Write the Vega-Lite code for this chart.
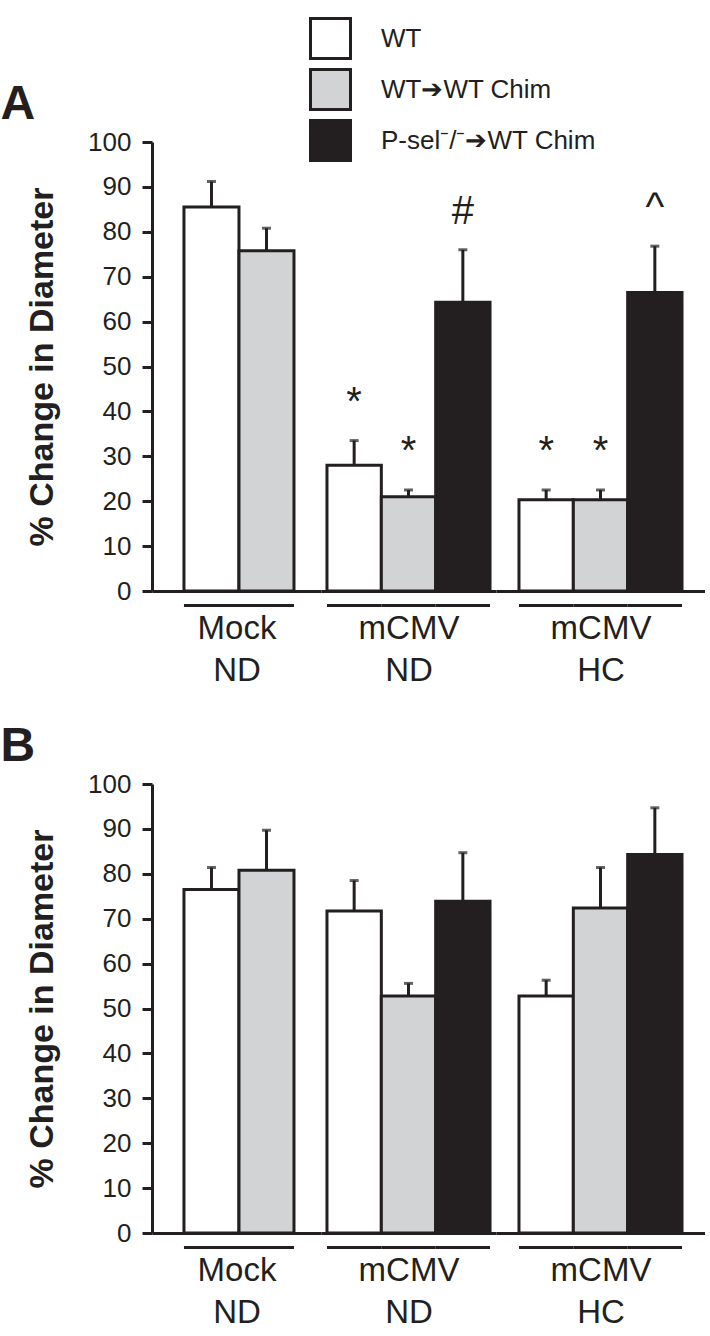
{
  "$schema": "https://vega.github.io/schema/vega-lite/v6.json",
  "padding": {"left": 0, "top": 17, "right": 0, "bottom": 0},
  "config": {
    "font": "Liberation Sans",
    "view": {"stroke": null},
    "axis": {"domainColor": "#231f20", "domainWidth": 3, "tickColor": "#231f20", "tickWidth": 3, "tickSize": 10, "labelColor": "#231f20", "labelFontSize": 26, "labelPadding": 11, "titleColor": "#231f20", "grid": false},
    "axisX": {"ticks": false, "labels": false, "titleFontSize": 33, "titleFontWeight": "normal", "titleLineHeight": 42, "titlePadding": 21},
    "title": {"fontSize": 48, "fontWeight": "bold", "anchor": "start", "color": "#231f20"}
  },
  "datasets": {
    "a": [
      {"group": "Mock ND", "genotype": "WT", "value": 85.5, "upper": 91.2},
      {"group": "Mock ND", "genotype": "WT➔WT Chim", "value": 75.8, "upper": 80.8},
      {"group": "mCMV ND", "genotype": "WT", "value": 28.0, "upper": 33.5, "sig": "*"},
      {"group": "mCMV ND", "genotype": "WT➔WT Chim", "value": 21.0, "upper": 22.5, "sig": "*"},
      {"group": "mCMV ND", "genotype": "P-sel⁻/⁻➔WT Chim", "value": 64.3, "upper": 76.0, "sig": "#"},
      {"group": "mCMV HC", "genotype": "WT", "value": 20.3, "upper": 22.5, "sig": "*"},
      {"group": "mCMV HC", "genotype": "WT➔WT Chim", "value": 20.3, "upper": 22.5, "sig": "*"},
      {"group": "mCMV HC", "genotype": "P-sel⁻/⁻➔WT Chim", "value": 66.5, "upper": 76.8, "sig": "^"}
    ],
    "b": [
      {"group": "Mock ND", "genotype": "WT", "value": 76.5, "upper": 81.4},
      {"group": "Mock ND", "genotype": "WT➔WT Chim", "value": 80.8, "upper": 89.7},
      {"group": "mCMV ND", "genotype": "WT", "value": 71.7, "upper": 78.5},
      {"group": "mCMV ND", "genotype": "WT➔WT Chim", "value": 52.8, "upper": 55.6},
      {"group": "mCMV ND", "genotype": "P-sel⁻/⁻➔WT Chim", "value": 73.9, "upper": 84.7},
      {"group": "mCMV HC", "genotype": "WT", "value": 52.8, "upper": 56.3},
      {"group": "mCMV HC", "genotype": "WT➔WT Chim", "value": 72.4, "upper": 81.4},
      {"group": "mCMV HC", "genotype": "P-sel⁻/⁻➔WT Chim", "value": 84.3, "upper": 94.7}
    ]
  },
  "vconcat": [
    {
      "title": {"text": "A", "dx": -25, "offset": 0},
      "spacing": 0,
      "bounds": "flush",
      "hconcat": [
        {
          "width": 169, "height": 449,
          "data": {"name": "a"},
          "transform": [{"filter": {"field": "group", "equal": "Mock ND"}}],
          "encoding": {"x": {"field": "genotype", "type": "nominal", "sort": null, "scale": {"paddingInner": 0, "paddingOuter": 0.536, "align": 0.542}, "axis": {"title": ["Mock", "ND"]}}},
          "layer": [
            {"mark": {"type": "bar", "stroke": "#231f20", "strokeWidth": 3},
             "encoding": {
               "y": {"field": "value", "type": "quantitative", "scale": {"domain": [0, 100]}, "axis": {"values": [0, 10, 20, 30, 40, 50, 60, 70, 80, 90, 100], "title": "% Change in Diameter", "titleFontSize": 34, "titleFontWeight": "bold", "titlePadding": 28}},
               "fill": {"field": "genotype", "type": "nominal", "scale": {"domain": ["WT", "WT➔WT Chim", "P-sel⁻/⁻➔WT Chim"], "range": ["#ffffff", "#d1d3d4", "#231f20"]}, "legend": {"orient": "none", "legendX": 157, "legendY": -125, "title": null, "symbolType": "square", "symbolSize": 1600, "symbolStrokeColor": "#231f20", "symbolStrokeWidth": 3, "labelFontSize": 26, "labelOffset": 29, "rowPadding": -2, "labelLimit": 500, "labelColor": "#231f20"}}}},
            {"mark": {"type": "rule", "strokeWidth": 3, "color": "#231f20"},
             "encoding": {"y": {"field": "upper", "type": "quantitative", "axis": {"values": [0, 10, 20, 30, 40, 50, 60, 70, 80, 90, 100], "title": "% Change in Diameter", "titleFontSize": 34, "titleFontWeight": "bold", "titlePadding": 28}}, "y2": {"field": "value"}}},
            {"mark": {"type": "tick", "orient": "horizontal", "size": 9, "thickness": 3, "color": "#231f20"},
             "encoding": {"y": {"field": "upper", "type": "quantitative", "axis": {"values": [0, 10, 20, 30, 40, 50, 60, 70, 80, 90, 100], "title": "% Change in Diameter", "titleFontSize": 34, "titleFontWeight": "bold", "titlePadding": 28}}}},
            {"mark": {"type": "rect", "color": "#231f20", "yOffset": 13, "y2Offset": 16},
             "encoding": {"y": {"datum": 0, "type": "quantitative", "axis": {"values": [0, 10, 20, 30, 40, 50, 60, 70, 80, 90, 100], "title": "% Change in Diameter", "titleFontSize": 34, "titleFontWeight": "bold", "titlePadding": 28}}, "y2": {"datum": 0}}}
          ]
        },
        {
          "width": 175, "height": 449,
          "data": {"name": "a"},
          "transform": [{"filter": {"field": "group", "equal": "mCMV ND"}}],
          "encoding": {"x": {"field": "genotype", "type": "nominal", "sort": null, "scale": {"paddingInner": 0, "paddingOuter": 0.11, "align": 0.5}, "axis": {"title": ["mCMV", "ND"]}}},
          "layer": [
            {"mark": {"type": "bar", "stroke": "#231f20", "strokeWidth": 3},
             "encoding": {
               "y": {"field": "value", "type": "quantitative", "scale": {"domain": [0, 100]}, "axis": null},
               "fill": {"field": "genotype", "type": "nominal", "scale": {"domain": ["WT", "WT➔WT Chim", "P-sel⁻/⁻➔WT Chim"], "range": ["#ffffff", "#d1d3d4", "#231f20"]}, "legend": {"orient": "none", "legendX": 157, "legendY": -125, "title": null, "symbolType": "square", "symbolSize": 1600, "symbolStrokeColor": "#231f20", "symbolStrokeWidth": 3, "labelFontSize": 26, "labelOffset": 29, "rowPadding": -2, "labelLimit": 500, "labelColor": "#231f20"}}}},
            {"mark": {"type": "rule", "strokeWidth": 3, "color": "#231f20"},
             "encoding": {"y": {"field": "upper", "type": "quantitative", "axis": null}, "y2": {"field": "value"}}},
            {"mark": {"type": "tick", "orient": "horizontal", "size": 9, "thickness": 3, "color": "#231f20"},
             "encoding": {"y": {"field": "upper", "type": "quantitative", "axis": null}}},
            {"mark": {"type": "rect", "color": "#231f20", "yOffset": 13, "y2Offset": 16},
             "encoding": {"y": {"datum": 0, "type": "quantitative", "axis": null}, "y2": {"datum": 0}}},
            {"transform": [{"filter": "isValid(datum.sig)"}],
             "mark": {"type": "text", "fontSize": 40, "dy": -26, "baseline": "alphabetic", "color": "#231f20"},
             "encoding": {"y": {"field": "upper", "type": "quantitative", "axis": null}, "text": {"field": "sig"}}}
          ]
        },
        {
          "width": 209, "height": 449,
          "data": {"name": "a"},
          "transform": [{"filter": {"field": "group", "equal": "mCMV HC"}}],
          "encoding": {"x": {"field": "genotype", "type": "nominal", "sort": null, "scale": {"paddingInner": 0, "paddingOuter": 0.423, "align": 0.5}, "axis": {"title": ["mCMV", "HC"]}}},
          "layer": [
            {"mark": {"type": "bar", "stroke": "#231f20", "strokeWidth": 3},
             "encoding": {
               "y": {"field": "value", "type": "quantitative", "scale": {"domain": [0, 100]}, "axis": null},
               "fill": {"field": "genotype", "type": "nominal", "scale": {"domain": ["WT", "WT➔WT Chim", "P-sel⁻/⁻➔WT Chim"], "range": ["#ffffff", "#d1d3d4", "#231f20"]}, "legend": {"orient": "none", "legendX": 157, "legendY": -125, "title": null, "symbolType": "square", "symbolSize": 1600, "symbolStrokeColor": "#231f20", "symbolStrokeWidth": 3, "labelFontSize": 26, "labelOffset": 29, "rowPadding": -2, "labelLimit": 500, "labelColor": "#231f20"}}}},
            {"mark": {"type": "rule", "strokeWidth": 3, "color": "#231f20"},
             "encoding": {"y": {"field": "upper", "type": "quantitative", "axis": null}, "y2": {"field": "value"}}},
            {"mark": {"type": "tick", "orient": "horizontal", "size": 9, "thickness": 3, "color": "#231f20"},
             "encoding": {"y": {"field": "upper", "type": "quantitative", "axis": null}}},
            {"mark": {"type": "rect", "color": "#231f20", "yOffset": 13, "y2Offset": 16},
             "encoding": {"y": {"datum": 0, "type": "quantitative", "axis": null}, "y2": {"datum": 0}}},
            {"transform": [{"filter": "isValid(datum.sig)"}],
             "mark": {"type": "text", "fontSize": 40, "dy": -26, "baseline": "alphabetic", "color": "#231f20"},
             "encoding": {"y": {"field": "upper", "type": "quantitative", "axis": null}, "text": {"field": "sig"}}}
          ]
        }
      ]
    },
    {
      "title": {"text": "B", "dx": -25, "offset": 0},
      "spacing": 0,
      "bounds": "flush",
      "hconcat": [
        {
          "width": 169, "height": 449,
          "data": {"name": "b"},
          "transform": [{"filter": {"field": "group", "equal": "Mock ND"}}],
          "encoding": {"x": {"field": "genotype", "type": "nominal", "sort": null, "scale": {"paddingInner": 0, "paddingOuter": 0.536, "align": 0.542}, "axis": {"title": ["Mock", "ND"]}}},
          "layer": [
            {"mark": {"type": "bar", "stroke": "#231f20", "strokeWidth": 3},
             "encoding": {
               "y": {"field": "value", "type": "quantitative", "scale": {"domain": [0, 100]}, "axis": {"values": [0, 10, 20, 30, 40, 50, 60, 70, 80, 90, 100], "title": "% Change in Diameter", "titleFontSize": 34, "titleFontWeight": "bold", "titlePadding": 28}},
               "fill": {"field": "genotype", "type": "nominal", "scale": {"domain": ["WT", "WT➔WT Chim", "P-sel⁻/⁻➔WT Chim"], "range": ["#ffffff", "#d1d3d4", "#231f20"]}, "legend": {"orient": "none", "legendX": 157, "legendY": -125, "title": null, "symbolType": "square", "symbolSize": 1600, "symbolStrokeColor": "#231f20", "symbolStrokeWidth": 3, "labelFontSize": 26, "labelOffset": 29, "rowPadding": -2, "labelLimit": 500, "labelColor": "#231f20"}}}},
            {"mark": {"type": "rule", "strokeWidth": 3, "color": "#231f20"},
             "encoding": {"y": {"field": "upper", "type": "quantitative", "axis": {"values": [0, 10, 20, 30, 40, 50, 60, 70, 80, 90, 100], "title": "% Change in Diameter", "titleFontSize": 34, "titleFontWeight": "bold", "titlePadding": 28}}, "y2": {"field": "value"}}},
            {"mark": {"type": "tick", "orient": "horizontal", "size": 9, "thickness": 3, "color": "#231f20"},
             "encoding": {"y": {"field": "upper", "type": "quantitative", "axis": {"values": [0, 10, 20, 30, 40, 50, 60, 70, 80, 90, 100], "title": "% Change in Diameter", "titleFontSize": 34, "titleFontWeight": "bold", "titlePadding": 28}}}},
            {"mark": {"type": "rect", "color": "#231f20", "yOffset": 13, "y2Offset": 16},
             "encoding": {"y": {"datum": 0, "type": "quantitative", "axis": {"values": [0, 10, 20, 30, 40, 50, 60, 70, 80, 90, 100], "title": "% Change in Diameter", "titleFontSize": 34, "titleFontWeight": "bold", "titlePadding": 28}}, "y2": {"datum": 0}}}
          ]
        },
        {
          "width": 175, "height": 449,
          "data": {"name": "b"},
          "transform": [{"filter": {"field": "group", "equal": "mCMV ND"}}],
          "encoding": {"x": {"field": "genotype", "type": "nominal", "sort": null, "scale": {"paddingInner": 0, "paddingOuter": 0.11, "align": 0.5}, "axis": {"title": ["mCMV", "ND"]}}},
          "layer": [
            {"mark": {"type": "bar", "stroke": "#231f20", "strokeWidth": 3},
             "encoding": {
               "y": {"field": "value", "type": "quantitative", "scale": {"domain": [0, 100]}, "axis": null},
               "fill": {"field": "genotype", "type": "nominal", "scale": {"domain": ["WT", "WT➔WT Chim", "P-sel⁻/⁻➔WT Chim"], "range": ["#ffffff", "#d1d3d4", "#231f20"]}, "legend": {"orient": "none", "legendX": 157, "legendY": -125, "title": null, "symbolType": "square", "symbolSize": 1600, "symbolStrokeColor": "#231f20", "symbolStrokeWidth": 3, "labelFontSize": 26, "labelOffset": 29, "rowPadding": -2, "labelLimit": 500, "labelColor": "#231f20"}}}},
            {"mark": {"type": "rule", "strokeWidth": 3, "color": "#231f20"},
             "encoding": {"y": {"field": "upper", "type": "quantitative", "axis": null}, "y2": {"field": "value"}}},
            {"mark": {"type": "tick", "orient": "horizontal", "size": 9, "thickness": 3, "color": "#231f20"},
             "encoding": {"y": {"field": "upper", "type": "quantitative", "axis": null}}},
            {"mark": {"type": "rect", "color": "#231f20", "yOffset": 13, "y2Offset": 16},
             "encoding": {"y": {"datum": 0, "type": "quantitative", "axis": null}, "y2": {"datum": 0}}}
          ]
        },
        {
          "width": 209, "height": 449,
          "data": {"name": "b"},
          "transform": [{"filter": {"field": "group", "equal": "mCMV HC"}}],
          "encoding": {"x": {"field": "genotype", "type": "nominal", "sort": null, "scale": {"paddingInner": 0, "paddingOuter": 0.423, "align": 0.5}, "axis": {"title": ["mCMV", "HC"]}}},
          "layer": [
            {"mark": {"type": "bar", "stroke": "#231f20", "strokeWidth": 3},
             "encoding": {
               "y": {"field": "value", "type": "quantitative", "scale": {"domain": [0, 100]}, "axis": null},
               "fill": {"field": "genotype", "type": "nominal", "scale": {"domain": ["WT", "WT➔WT Chim", "P-sel⁻/⁻➔WT Chim"], "range": ["#ffffff", "#d1d3d4", "#231f20"]}, "legend": {"orient": "none", "legendX": 157, "legendY": -125, "title": null, "symbolType": "square", "symbolSize": 1600, "symbolStrokeColor": "#231f20", "symbolStrokeWidth": 3, "labelFontSize": 26, "labelOffset": 29, "rowPadding": -2, "labelLimit": 500, "labelColor": "#231f20"}}}},
            {"mark": {"type": "rule", "strokeWidth": 3, "color": "#231f20"},
             "encoding": {"y": {"field": "upper", "type": "quantitative", "axis": null}, "y2": {"field": "value"}}},
            {"mark": {"type": "tick", "orient": "horizontal", "size": 9, "thickness": 3, "color": "#231f20"},
             "encoding": {"y": {"field": "upper", "type": "quantitative", "axis": null}}},
            {"mark": {"type": "rect", "color": "#231f20", "yOffset": 13, "y2Offset": 16},
             "encoding": {"y": {"datum": 0, "type": "quantitative", "axis": null}, "y2": {"datum": 0}}}
          ]
        }
      ]
    }
  ],
  "spacing": 36
}
